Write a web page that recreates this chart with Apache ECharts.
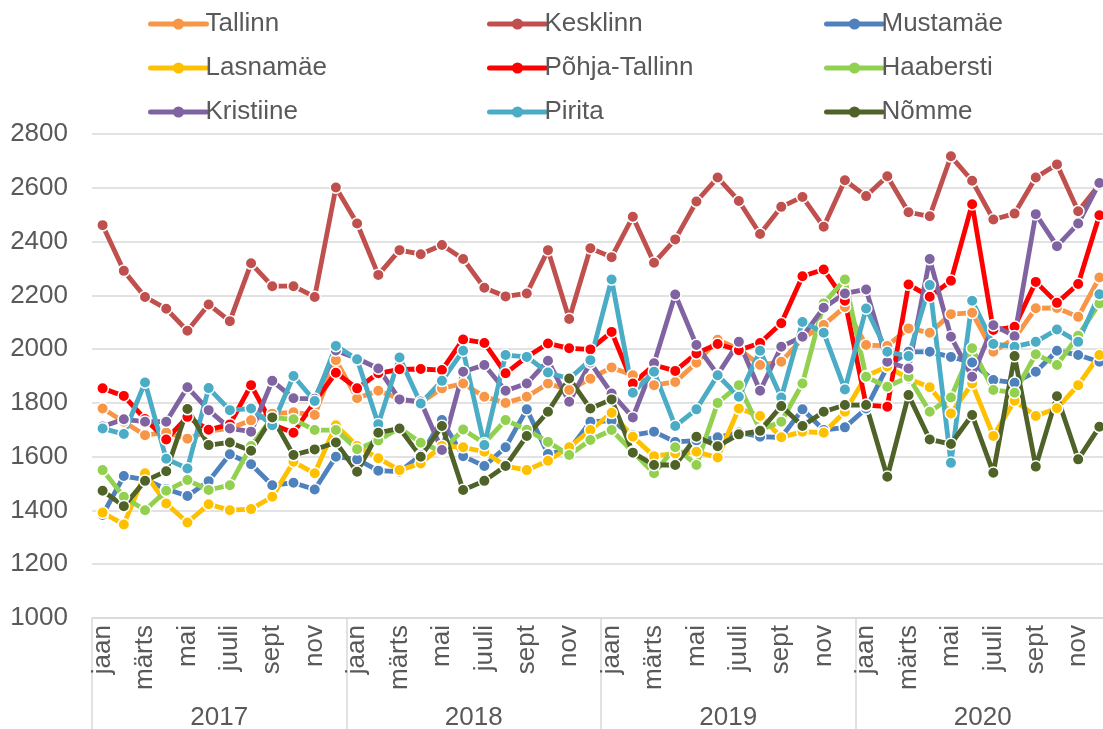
<!DOCTYPE html>
<html><head><meta charset="utf-8">
<script src="https://cdn.jsdelivr.net/npm/echarts@6/dist/echarts.min.js"></script>
<style>html,body{margin:0;padding:0;background:#fff}#c{width:1103px;height:729px}</style>
</head><body><div id="c"></div>
<script>
var monthNames = ["jaan","veebr","märts","apr","mai","juuni","juuli","aug","sept","okt","nov","dets"];
var years = ["2017","2018","2019","2020"];
var yTicks = [1000,1200,1400,1600,1800,2000,2200,2400,2600,2800];

var tallinn = [1779,1730,1680,1690,1667,1695,1705,1735,1760,1765,1755,1959,
  1817,1845,1815,1800,1854,1872,1823,1800,1823,1872,1848,1890,
  1932,1903,1866,1878,1949,2035,2000,1941,1953,2040,2090,2157,
  2015,2012,2077,2061,2130,2135,1990,2040,2152,2153,2120,2266];
var kesklinn = [2461,2291,2194,2150,2068,2166,2104,2319,2234,2234,2194,2601,
  2467,2276,2368,2353,2387,2335,2228,2196,2207,2368,2112,2375,
  2342,2492,2321,2408,2549,2638,2551,2428,2529,2566,2455,2628,
  2569,2643,2509,2494,2717,2626,2482,2504,2638,2687,2513,2612];
var mustamae = [1383,1528,1515,1480,1454,1509,1609,1572,1494,1503,1478,1600,
  1590,1548,1544,1605,1736,1602,1565,1635,1776,1610,1625,1730,
  1733,1680,1693,1655,1660,1672,1690,1674,1672,1776,1699,1709,
  1779,1935,1990,1990,1971,1950,1885,1875,1916,1994,1978,1953];
var lasnamae = [1392,1348,1538,1426,1355,1423,1401,1405,1451,1581,1538,1717,
  1640,1594,1550,1575,1640,1635,1618,1565,1550,1585,1635,1699,
  1763,1674,1602,1612,1618,1597,1779,1751,1672,1693,1689,1767,
  1900,1935,1890,1858,1761,1872,1677,1808,1751,1780,1866,1978];
var pohja = [1854,1826,1740,1664,1748,1700,1720,1866,1720,1689,1805,1912,
  1854,1910,1925,1926,1922,2036,2023,1910,1971,2021,2003,1999,
  2064,1872,1941,1919,1984,2019,1996,2023,2096,2271,2296,2180,
  1792,1786,2240,2195,2254,2539,2071,2083,2250,2172,2242,2498];
var haabersti = [1550,1451,1401,1473,1513,1476,1494,1640,1745,1739,1699,1699,
  1628,1660,1707,1652,1620,1701,1650,1736,1700,1655,1606,1662,
  1699,1618,1538,1635,1569,1800,1866,1700,1730,1872,2170,2259,
  1897,1860,1897,1767,1820,2003,1848,1838,1981,1941,2050,2170];
var kristiine = [1712,1739,1730,1730,1858,1773,1705,1693,1882,1817,1815,1995,
  1965,1928,1813,1805,1625,1916,1941,1845,1872,1957,1804,1950,
  1835,1746,1947,2203,2015,1905,2027,1845,2009,2046,2154,2207,
  2222,1953,1928,2335,2046,1897,2089,2048,2502,2383,2467,2618];
var pirita = [1705,1684,1876,1592,1556,1855,1773,1779,1717,1900,1807,2012,
  1962,1721,1969,1798,1882,1994,1643,1978,1971,1913,1890,1959,
  2259,1838,1916,1714,1776,1903,1823,1994,1820,2101,2061,1850,
  2151,1990,1974,2238,1577,2180,2019,2009,2027,2073,2027,2204];
var nomme = [1473,1416,1510,1546,1777,1643,1653,1622,1746,1606,1627,1653,
  1544,1689,1705,1600,1714,1476,1510,1565,1677,1767,1891,1779,
  1813,1615,1569,1569,1674,1639,1683,1696,1788,1714,1767,1792,
  1792,1525,1829,1664,1647,1755,1540,1974,1563,1825,1590,1711];

var seriesDefs = [
  ["Tallinn", tallinn, "#F79646"],
  ["Kesklinn", kesklinn, "#C0504D"],
  ["Mustamäe", mustamae, "#4F81BD"],
  ["Lasnamäe", lasnamae, "#FFC000"],
  ["Põhja-Tallinn", pohja, "#FF0000"],
  ["Haabersti", haabersti, "#92D050"],
  ["Kristiine", kristiine, "#8064A2"],
  ["Pirita", pirita, "#4BACC6"],
  ["Nõmme", nomme, "#4F6228"]
];

var cats = [];
years.forEach(function(y){ monthNames.forEach(function(m){ cats.push(m + " " + y); }); });

var FONT = "'Liberation Sans', Arial, sans-serif";
var TXT = "#595959";
var GRID = "#D9D9D9";

function legendCol(names, left) {
  return {
    orient: 'vertical', left: left, top: 4,
    itemWidth: 56, itemHeight: 14, itemGap: 14,
    data: names,
    lineStyle: { width: 5 },
    itemStyle: { borderWidth: 0 },
    textStyle: { fontSize: 26, color: TXT, fontFamily: FONT, lineHeight: 30, padding: [0,0,0,-6] }
  };
}

var chart = echarts.init(document.getElementById('c'), null, { renderer: 'canvas' });
chart.setOption({
  animation: false,
  backgroundColor: '#fff',
  legend: [
    legendCol(["Tallinn","Lasnamäe","Kristiine"], 143),
    legendCol(["Kesklinn","Põhja-Tallinn","Pirita"], 482),
    legendCol(["Mustamäe","Haabersti","Nõmme"], 819)
  ],
  grid: { left: 92, width: 1018, top: 134, height: 484, containLabel: false, outerBoundsMode: 'none' },
  xAxis: [
    {
      type: 'category', data: cats, boundaryGap: true, position: 'bottom',
      axisLine: { show: true, lineStyle: { color: GRID, width: 1.5 } },
      axisTick: { show: false },
      axisLabel: {
        interval: 1, rotate: 90, margin: 7, fontSize: 26, color: TXT, fontFamily: FONT,
        formatter: function (v) { return v.split(" ")[0]; }
      }
    },
    {
      type: 'category', data: years, boundaryGap: true, position: 'bottom',
      axisLine: { show: false },
      axisTick: { show: true, length: 111, lineStyle: { color: GRID, width: 1.5 } },
      axisLabel: { margin: 87, fontSize: 26, color: TXT, fontFamily: FONT }
    }
  ],
  yAxis: {
    type: 'value', min: yTicks[0], max: yTicks[yTicks.length - 1], interval: 200,
    axisLine: { show: false }, axisTick: { show: false },
    splitLine: { lineStyle: { color: GRID, width: 1.5 } },
    axisLabel: { margin: 24, fontSize: 26, color: TXT, fontFamily: FONT,
      formatter: function (v) { return String(v); } }
  },
  series: seriesDefs.map(function (d) {
    return {
      name: d[0], type: 'line', data: d[1], xAxisIndex: 0,
      symbol: 'circle', symbolSize: 11.5, showSymbol: true,
      lineStyle: { color: d[2], width: 4.8, cap: 'round', join: 'round' },
      itemStyle: { color: d[2], borderColor: '#fff', borderWidth: 1.5 },
      emphasis: { disabled: true }
    };
  })
});
</script>
</body></html>
